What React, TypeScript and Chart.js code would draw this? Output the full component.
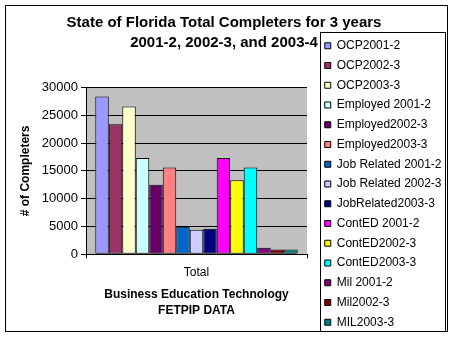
import React, { useEffect, useRef } from "react";
import { Chart, registerables } from "chart.js";

Chart.register(...registerables);

const categories = ["Total"];
const seriesLabels = [
  "OCP2001-2",
  "OCP2002-3",
  "OCP2003-3",
  "Employed 2001-2",
  "Employed2002-3",
  "Employed2003-3",
  "Job Related 2001-2",
  "Job Related 2002-3",
  "JobRelated2003-3",
  "ContED 2001-2",
  "ContED2002-3",
  "ContED2003-3",
  "Mil 2001-2",
  "Mil2002-3",
  "MIL2003-3",
];
const seriesValues = [
  28400, 23400, 26600, 17300, 12500, 15600, 4950, 4400, 4600, 17300, 13300, 15600, 1200, 850, 850,
];
const seriesColors = [
  "#9999FF",
  "#993366",
  "#FFFFCC",
  "#CCFFFF",
  "#660066",
  "#FF8080",
  "#0066CC",
  "#CCCCFF",
  "#000080",
  "#FF00FF",
  "#FFFF00",
  "#00FFFF",
  "#800080",
  "#800000",
  "#008080",
];
const titleLines = ["State of Florida Total Completers for 3 years", "2001-2, 2002-3, and 2003-4"];
const xTitleLines = ["Business Education Technology", "FETPIP DATA"];
const yTitle = "# of Completers";
const yMin = 0;
const yMax = 30000;
const yStep = 5000;

const FONT = "Arial, 'Liberation Sans', sans-serif";

const framePlugin = {
  id: "frame",
  beforeDraw(chart: any) {
    const { ctx, chartArea } = chart;
    ctx.save();
    ctx.fillStyle = "#FFFFFF";
    ctx.fillRect(0, 0, chart.width, chart.height);
    ctx.fillStyle = "#C0C0C0";
    ctx.fillRect(chartArea.left, chartArea.top, chartArea.right - chartArea.left, chartArea.bottom - chartArea.top);
    ctx.strokeStyle = "#000000";
    ctx.lineWidth = 1;
    ctx.strokeRect(5.5, 5.5, 442, 326);
    ctx.restore();
  },
  afterDraw(chart: any) {
    const { ctx, legend } = chart;
    if (!legend) return;
    ctx.save();
    ctx.strokeStyle = "#000000";
    ctx.lineWidth = 1;
    const l = Math.round(legend.left + 3) + 0.5;
    const r = Math.round(legend.right - 3) + 0.5;
    const t = 32.5;
    const b = Math.round(legend.bottom - 5) + 0.5;
    ctx.strokeRect(l, t, r - l, b - t);
    ctx.restore();
  },
};

export default function App() {
  const ref = useRef<HTMLCanvasElement | null>(null);

  useEffect(() => {
    if (!ref.current) return;
    const chart = new Chart(ref.current, {
      type: "bar",
      data: {
        labels: categories,
        datasets: seriesLabels.map((label, i) => ({
          label,
          data: [seriesValues[i]],
          backgroundColor: seriesColors[i],
          borderColor: "#000000",
          borderWidth: 1,
          borderSkipped: false,
          categoryPercentage: 0.916,
          barPercentage: 1,
        })),
      },
      options: {
        responsive: false,
        animation: false,
        devicePixelRatio: 1,
        layout: { padding: { top: 0, left: 0, right: 8, bottom: 2 } },
        plugins: {
          tooltip: { enabled: false },
          title: {
            display: true,
            text: titleLines,
            color: "#000",
            font: { family: FONT, size: 15, weight: "bold", lineHeight: 1.333 },
            padding: { top: 13, bottom: 34.5 },
          },
          legend: {
            display: true,
            position: "right",
            align: "end",
            maxWidth: 131,
            labels: {
              color: "#000",
              font: { family: FONT, size: 12 },
              boxWidth: 6,
              boxHeight: 6,
              padding: 7.75,
            },
          },
        },
        scales: {
          x: {
            grid: {
              display: true,
              drawOnChartArea: false,
              drawTicks: true,
              tickLength: 4,
              color: "#000",
              offset: true,
            },
            border: { display: true, color: "#000" },
            ticks: { color: "#000", font: { family: FONT, size: 12 }, padding: 7.2 },
            title: {
              display: true,
              text: xTitleLines,
              color: "#000",
              font: { family: FONT, size: 12, weight: "bold", lineHeight: 1.333 },
              padding: { top: 0, bottom: 17 },
            },
            afterFit: (s: any) => {
              s.height = 81.7;
            },
          },
          y: {
            min: yMin,
            max: yMax,
            grid: { color: "#000", tickLength: 5, drawTicks: true },
            border: { display: true, color: "#000" },
            ticks: {
              stepSize: yStep,
              color: "#000",
              font: { family: FONT, size: 13 },
              padding: 3,
              callback: (v: any) => String(v),
            },
            title: {
              display: true,
              text: yTitle,
              color: "#000",
              font: { family: FONT, size: 12, weight: "bold" },
              padding: { top: 18.5, bottom: 0 },
            },
            afterFit: (s: any) => {
              s.width = 86;
            },
          },
          yR: {
            type: "linear",
            position: "right",
            display: true,
            grid: { display: false },
            border: { display: false },
            ticks: { display: false },
            afterFit: (s: any) => {
              s.width = 10;
            },
          },
        },
      },
      plugins: [framePlugin],
    } as any);
    return () => chart.destroy();
  }, []);

  return (
    <div style={{ position: "absolute", left: 0, top: 0, width: 456, height: 338 }}>
      <canvas ref={ref} width={456} height={338} style={{ width: 456, height: 338, display: "block" }} />
    </div>
  );
}
